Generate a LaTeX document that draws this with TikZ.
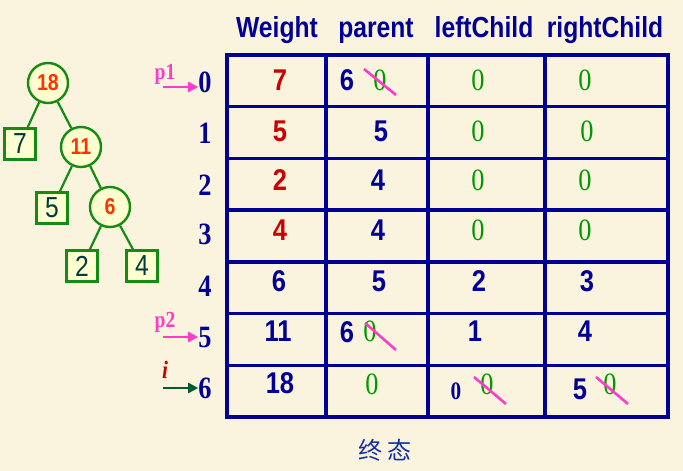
\documentclass[tikz,border=0pt]{standalone}
\usepackage{fontspec}
\setmainfont{Liberation Serif}
\newfontfamily\hsans[FakeStretch=0.85]{Liberation Sans}
\newfontfamily\hserif[FakeStretch=0.85]{Liberation Serif}
\newfontfamily\cjk{Noto Sans CJK SC}
\usetikzlibrary{arrows.meta,calc}
\definecolor{bg}{RGB}{250,244,222}
\definecolor{navy}{RGB}{0,0,150}
\definecolor{wred}{RGB}{204,0,0}
\definecolor{zgreen}{RGB}{0,153,0}
\definecolor{pinkm}{RGB}{255,60,200}
\definecolor{tgreen}{RGB}{20,140,20}
\definecolor{corange}{RGB}{255,51,0}
\definecolor{bfill}{RGB}{255,255,208}
\definecolor{btext}{RGB}{0,60,60}
\definecolor{arrgreen}{RGB}{0,90,50}
\definecolor{cjkblue}{RGB}{20,50,160}
\begin{document}
\begin{tikzpicture}[x=1pt,y=-1pt,
  hdr/.style={font=\hsans\bfseries\fontsize{29}{31}\selectfont, text=navy, inner sep=0, anchor=base},
  wval/.style={font=\hsans\bfseries\fontsize{30}{32}\selectfont, text=wred, inner sep=0},
  nval/.style={font=\hsans\bfseries\fontsize{30}{32}\selectfont, text=navy, inner sep=0},
  gzero/.style={font=\hserif\fontsize{31}{33}\selectfont, text=zgreen, inner sep=0},
  rowlab/.style={font=\hserif\bfseries\fontsize{31}{33}\selectfont, text=navy, inner sep=0},
  ptr/.style={font=\hserif\bfseries\fontsize{23}{25}\selectfont, text=pinkm, inner sep=0},
  strike/.style={draw=pinkm, line width=2.6pt},
  tbl/.style={draw=navy, line width=3.5pt},
  parr/.style={draw=pinkm, line width=2.8pt, -{Triangle[length=10pt,width=10pt]}},
  garr/.style={draw=arrgreen, line width=2.8pt, -{Triangle[length=10pt,width=10pt]}},
  cnode/.style={circle, draw=tgreen, fill=bfill, line width=2.4pt, minimum size=40pt, inner sep=0,
     font=\hsans\bfseries\fontsize{23}{25}\selectfont, text=corange},
  bnode/.style={rectangle, draw=tgreen, fill=bfill, line width=2.4pt, minimum size=31pt, inner sep=0,
     font=\hsans\fontsize{29}{31}\selectfont, text=btext},
  tedge/.style={draw=tgreen, line width=2.2pt}
]
\fill[bg] (0,0) rectangle (683,471);
\useasboundingbox (0,0) rectangle (683,471);

% ---------- tree ----------
\node[cnode] (c18) at (48,83) {18};
\node[cnode] (c11) at (81,147) {11};
\node[cnode] (c6) at (110,207) {6};
\node[bnode] (b7) at (20,144) {7};
\node[bnode] (b5) at (52,208) {5};
\node[bnode] (b2) at (82,266) {2};
\node[bnode] (b4) at (142,266) {4};
\draw[tedge] (c18) -- (b7);
\draw[tedge] (c18) -- (c11);
\draw[tedge] (c11) -- (b5);
\draw[tedge] (c11) -- (c6);
\draw[tedge] (c6) -- (b2);
\draw[tedge] (c6) -- (b4);

% ---------- header ----------
\node[hdr] (hw) at (277,37) {Weight};
\node[hdr] (hp) at (376,37) {parent};
\node[hdr] (hl) at (484,37) {leftChild};
\node[hdr] (hr) at (605,37) {rightChild};

% ---------- table grid ----------
\draw[tbl] (227,55) rectangle (668,417);
\foreach \x in {326,428,545} \draw[tbl] (\x,55) -- (\x,417);
\foreach \k in {1,...,6} \draw[tbl] (227,55+51.71*\k) -- (668,55+51.71*\k);

% ---------- row labels ----------
\node[rowlab] (r0) at (205,82) {0};
\node[rowlab] (r1) at (205,133) {1};
\node[rowlab] (r2) at (205,185) {2};
\node[rowlab] (r3) at (205,234) {3};
\node[rowlab] (r4) at (205,286) {4};
\node[rowlab] (r5) at (205,337) {5};
\node[rowlab] (r6) at (205,388) {6};

% pointers
\node[ptr] (p1) at (165,74) {p1};
\coordinate (p1s) at (163,87);
\draw[parr] (p1s) -- (p1s -| r0.west);
\node[ptr] (p2) at (165,322) {p2};
\coordinate (p2s) at (163,337);
\draw[parr] (p2s) -- (p2s -| r5.west);
\node[font=\hserif\itshape\bfseries\fontsize{25}{27}\selectfont, text=wred, inner sep=0] (iv) at (165,370) {i};
\coordinate (is) at (163,388);
\draw[garr] (is) -- (is -| r6.west);

% ---------- row 0 ----------
\node[wval] (w0) at (280,80) {7};
\node[nval] (p0a) at (347,80) {6};
\node[gzero] (p0b) at (380,80) {0};
\draw[strike] (364,69) -- (396,95);
\node[gzero] (l0) at (478,80) {0};
\node[gzero] (rr0) at (585,80) {0};
% ---------- row 1 ----------
\node[wval] (w1) at (280,131) {5};
\node[nval] (p1v) at (381,131) {5};
\node[gzero] (l1) at (478,131) {0};
\node[gzero] (rr1) at (587,131) {0};
% ---------- row 2 ----------
\node[wval] (w2) at (280,180) {2};
\node[nval] (p2v) at (378,180) {4};
\node[gzero] (l2) at (478,180) {0};
\node[gzero] (rr2) at (585,180) {0};
% ---------- row 3 ----------
\node[wval] (w3) at (280,230) {4};
\node[nval] (p3v) at (378,230) {4};
\node[gzero] (l3) at (478,230) {0};
\node[gzero] (rr3) at (585,230) {0};
% ---------- row 4 ----------
\node[nval] (w4) at (279,281) {6};
\node[nval] (p4v) at (379,281) {5};
\node[nval] (l4) at (479,281) {2};
\node[nval] (rr4) at (587,281) {3};
% ---------- row 5 ----------
\node[nval] (w5) at (278,331) {11};
\node[nval] (p5a) at (347,332) {6};
\node[gzero] (p5b) at (370,331) {0};
\draw[strike] (365,323) -- (396,350);
\node[nval] (l5) at (475,331) {1};
\node[nval] (rr5) at (585,331) {4};
% ---------- row 6 ----------
\node[nval] (w6) at (280,383) {18};
\node[gzero] (p6) at (372,384) {0};
\node[font=\hserif\bfseries\fontsize{25}{27}\selectfont, text=navy, inner sep=0] (l6a) at (456,391) {0};
\node[gzero] (l6b) at (487,384) {0};
\draw[strike] (474,377) -- (506,404);
\node[nval] (rr6a) at (580,389) {5};
\node[gzero] (rr6b) at (610,384) {0};
\draw[strike] (596,377) -- (628,404);

% ---------- caption ----------
\node[font=\cjk\fontsize{24}{26}\selectfont, text=cjkblue, inner sep=0] (cap) at (385,450) {终 态};
\end{tikzpicture}
\end{document}
